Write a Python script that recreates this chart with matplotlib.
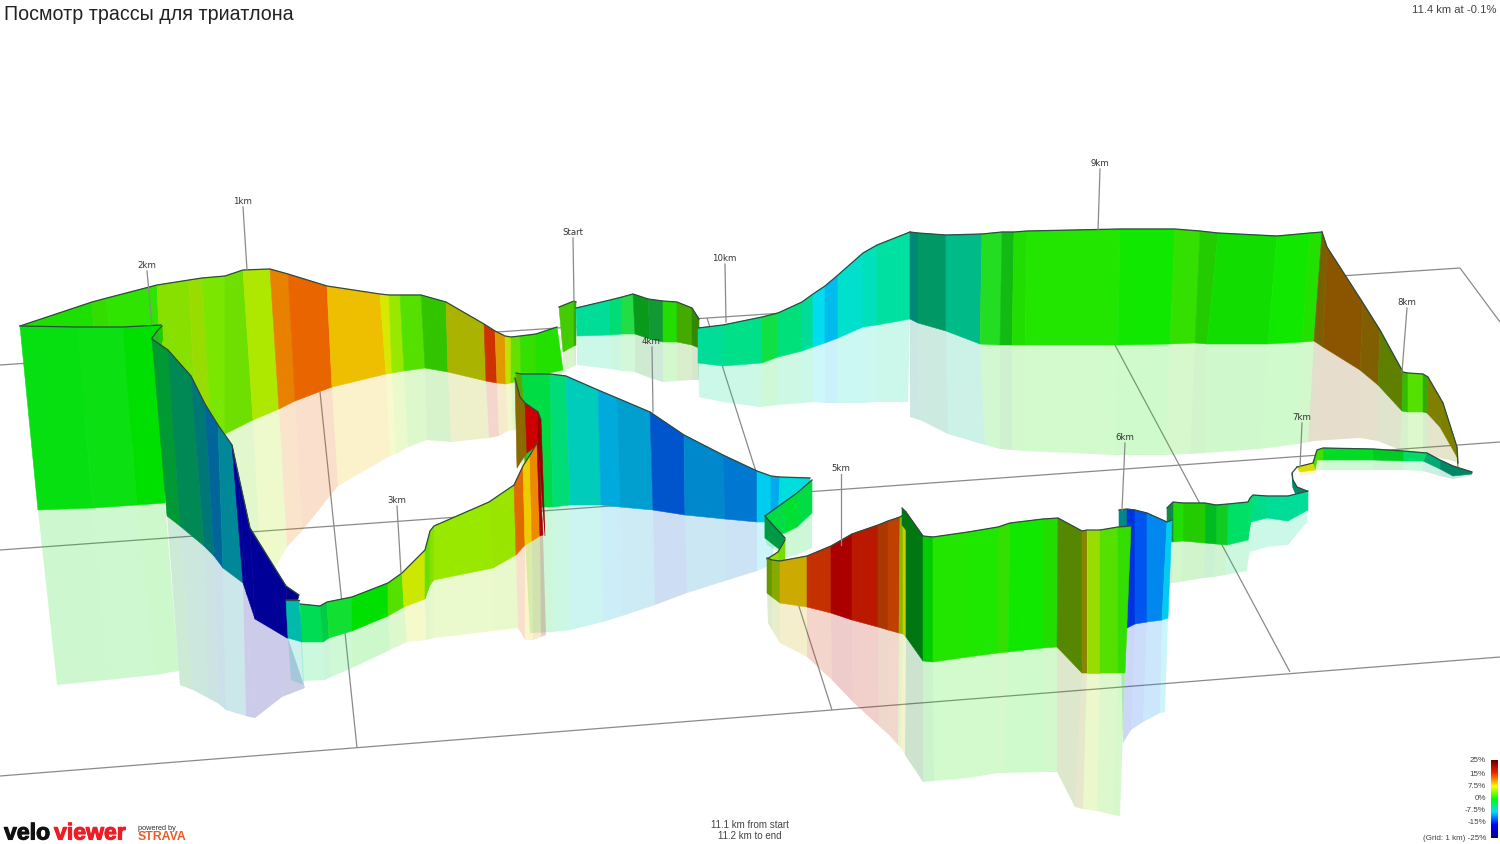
import numpy as np
import matplotlib
matplotlib.use("Agg")
import matplotlib.pyplot as plt
import matplotlib.patheffects as pe
from matplotlib.colors import LinearSegmentedColormap
from matplotlib.patches import Polygon

TITLE = "Посмотр трассы для триатлона"

# Each station is (top x, top y, base x, base y, reflection x, reflection y)
upper_st = [(20,326,38,400,38,400),(92,302,100,420,100,420),(107,298,118,430,118,430),(157,285,165,470,165,470),
 (189,280,197,455,197,455),(202,278,212,446,212,446),(225,276,225,434,240,575),(243,270,253,420,262,590),
 (270,269,279,409,287,547),(288,274,295,401,302,531),(327,286,332,387,338,486),(380,294,386,374,390,456),
 (389,295,392,373,396,454),(400,295,404,371,408,447),(421,295,425,368,427,440),(446,302,448,372,451,442),
 (484,324,486,381,489,438),(495,331,497,383,499,436),(505,336,506,384,508,431),(511,337,511,383,513,430),
 (520,336,521,380,523,429),(536,334,536,376,537,427),(557,327,563,370,563,372)]
upper_col = ["#1ee000","#33dd00","#2ee400","#88e000","#99dd00","#7be600","#6fdf00","#aee800","#e88000","#e96500",
 "#eebf00","#d8e800","#99e800","#55e000","#33c400","#aab400","#cc3300","#e09a00","#c4e000","#66e000","#33e000","#22e000"]

turn_st = [(559,307,563,352,563,372),(574,301,574,346,574,366),(576,302,576,345,576,365)]
turn_col = ["#44cc00","#33aa00"]

start_st = [(576,308,577,336,577,365),(610,300,610,335,610,369),(622,297,622,334,622,371),(633,294,635,334,635,372),
 (648,299,650,339,650,378),(663,301,663,342,663,382),(677,302,677,342,677,381),(692,308,692,345,692,380),(699,319,699,348,699,380)]
start_col = ["#00dd99","#00dd77","#22dd44","#0a9a1a","#119933","#22dd00","#44aa00","#338800"]

climb_st = [(698,328,698,363,699,397),(723,325,723,366,723,402),(762,317,762,363,760,407),(778,313,778,357,778,405),
 (802,302,802,351,802,403),(813,294,813,347,813,402),(825,286,825,343,825,403),(838,275,838,338,838,403),
 (863,253,863,327,863,403),(877,245,877,325,877,402),(910,232,910,319,908,402)]
climb_col = ["#00dd99","#00e088","#11e044","#00e07a","#00dd99","#00ddee","#00bbee","#00e0cc","#00e0bb","#00e0a0"]

top_st = [(910,232,910,319,910,417),(918,233,918,323,920,420),(946,235,946,331,948,434),(982,234,980,344,985,445),
 (1002,232,1000,345,1000,449),(1014,232,1012,345,1012,450),(1027,231,1025,345,1025,451),(1120,229,1118,345,1115,455),
 (1175,229,1170,344,1165,455),(1200,231,1195,343,1190,454),(1218,233,1207,344,1205,453),(1277,236,1268,344,1260,449),
 (1310,233,1302,342,1298,444),(1322,232,1314,341,1308,442)]
top_col = ["#008877","#009966","#00bb88","#22dd22","#11bb11","#22dd00","#22e600","#11e800","#33e000","#22cc00","#11dd00","#11e800","#22e000"]

descent_st = [(1322,232,1314,341,1308,442),(1327,247,1323,347,1313,441),(1363,303,1360,370,1360,438),(1380,330,1378,385,1378,441),
 (1403,372,1402,411,1400,450),(1408,373,1408,412,1408,451),(1423,374,1423,412,1423,454),(1428,377,1427,413,1427,455),
 (1443,403,1440,427,1440,458),(1457,447,1457,457,1457,462),(1458,463,1458,467,1458,468)]
descent_col = ["#7a6000","#8b5500","#7f5f00","#5f7f00","#33bb00","#55e000","#33aa00","#7f8000","#7f8000","#6f8800"]

strip_st = [(1472,472,1472,474,1470,476),(1453,466,1453,476,1453,479),(1440,460,1440,469,1440,476),(1427,453,1423,461,1423,471),
 (1403,451,1403,461,1403,470),(1373,449,1373,460,1373,470),(1323,448,1323,460,1323,470),(1317,450,1317,460,1317,470),(1313,463,1315,470,1315,474)]
strip_col = ["#008866","#008866","#00aa77","#00dd66","#00cc22","#00dd22","#44dd00","#44dd00"]

bend_st = [(1313,463,1315,470,1315,474),(1297,467,1300,472,1300,476)]
bend_col = ["#dddd00"]

curl_st = [(1297,467,1297,468,1297,468),(1292,473,1292,476,1292,476),(1293,480,1293,488,1293,488),(1297,487,1296,495,1296,495),(1307,491,1307,497,1307,498)]
curl_col = ["#ffffff","#008866","#008866","#008866"]

link_st = [(1308,491,1308,510,1307,522),(1288,496,1288,521,1288,545),(1267,496,1267,518,1267,547),(1253,495,1251,522,1250,552),
 (1250,498,1249,532,1248,562),(1248,502,1248,540,1247,571),(1228,504,1227,545,1225,575),(1216,505,1216,544,1214,577),(1205,503,1205,543,1203,578),
 (1183,503,1183,541,1181,582),(1173,502,1173,542,1172,583),(1167,508,1167,540,1166,584)]
link_col = ["#00dd99","#00dd99","#00dd88","#00e066","#00e066","#00e066","#11cc22","#00bb22","#22cc00","#22dd00","#118844"]

blue6_st = [(1119,510,1119,560,1119,560),(1127,509,1127,628,1123,743),(1135,510,1135,624,1131,730),(1147,513,1147,622,1143,722),
 (1167,522,1162,620,1160,713),(1172,520,1168,618,1165,712)]
blue6_col = ["#008888","#0033dd","#0055ee","#0088ee","#00ccee"]

descent4_st = [(516,373,518,400,518,400),(522,374,530,507,530,633),(550,374,553,507,553,632),(566,376,570,505,570,630),
 (598,390,601,505,603,622),(617,398,620,507,622,616),(650,412,653,510,655,605),(684,435,685,515,687,593),
 (723,455,725,519,725,581),(757,471,757,522,757,571),(771,476,771,522,771,565),(780,477,778,520,778,520),(810,478,810,490,810,490)]
descent4_col = ["#55aa00","#00dd44","#00dd77","#00ccbb","#00aadd","#009fcf","#0055cc","#0088cc","#0077d0","#00ccee","#00aaee","#00dddd"]

twist_st = [(515,378,517,468,517,468),(520,397,522,460,522,460),(525,403,527,453,527,453),(538,412,538,444,538,444),(541,420,545,536,545,536)]
twist_col = ["#8a6a00","#8a6a00","#cc0000","#990000"]

valley_st = [(300,604,301,642,303,681),(320,606,323,642,325,680),(327,602,329,638,331,677),(352,597,352,631,352,668),
 (388,583,388,616,390,650),(402,573,404,607,407,642),(425,550,425,599,426,640),(430,531,430,585,430,639),(434,526,434,580,434,638),
 (489,502,493,568,493,631),(514,485,516,555,518,628),(523,466,525,545,525,640),(530,455,532,541,533,640),(537,443,540,536,541,637),(538,442,543,535,546,635)]
valley_col = ["#00dd55","#00cc44","#11e033","#00e000","#55e000","#cce800","#66e000","#88e000","#99e800","#99e500","#e06a00","#eecc00","#ee8800","#aa0000"]

ret_st = [(812,480,812,513,812,548),(797,493,797,527,797,555),(783,503,785,533,787,557),(765,516,765,538,767,545)]
ret_col = ["#00dd44","#00e033","#00dd44"]
dark_st = [(765,516,765,538,765,538),(773,525,775,546,775,546),(785,538,783,552,783,552)]
dark_col = ["#009944","#009944"]
lime_st = [(785,540,785,560,785,560),(778,552,778,562,778,562),(767,559,770,561,770,561)]
lime_col = ["#77dd00","#99dd00"]

front_st = [(767,558,767,593,768,623),(772,560,772,597,772,630),(780,561,780,603,780,643),(807,556,807,607,807,657),
 (831,546,831,613,832,680),(852,534,852,620,853,702),(878,525,878,627,879,726),(888,521,888,630,889,735),(900,517,899,633,898,745),
 (903,515,903,634,901,748),(906,512,906,637,905,755),(923,536,923,661,923,782),(933,537,933,662,934,781),(968,532,968,657,968,778),
 (998,527,998,653,998,773),(1010,523,1008,652,1004,773),(1043,519,1043,648,1043,772),(1058,518,1057,647,1057,772),
 (1082,531,1082,673,1075,807),(1087,530,1087,673,1083,809),(1100,530,1100,673,1097,811),(1118,527,1118,673,1113,815),(1131,526,1125,673,1120,816)]
front_col = ["#669900","#88aa00","#ccaa00","#c43000","#aa0000","#bb1800","#aa3800","#bf4000","#88bb00","#cccc00","#007711","#00cc00",
 "#22e600","#1ee800","#33e000","#11e800","#22dd00","#558800","#888800","#99dd00","#55e000","#33dd00"]
spike_st = [(902,508,902,525,902,525),(906,512,906,530,906,530)]
spike_col = ["#007711"]

panel_st = [(20,326,38,510,57,685),(77,327,93,508,107,680),(123,327,137,505,155,675),(161,325,165,503,179,671)]
panel_col = ["#06e010","#0ae012","#00e000"]

hook_st = [(152,338,155,340,155,340),(158,330,160,345,160,345),(162,326,163,340,163,340)]
hook_col = ["#22bb22","#22cc00"]

pit_st = [(152,339,167,516,180,685),(168,350,180,526,193,690),(191,376,204,546,208,698),(205,404,214,556,219,704),(218,425,223,568,226,710),
 (232,445,243,583,246,716),(238,473,247,595,250,717),(250,528,255,619,255,718),(286,586,287,638,282,697),(299,595,288,638,305,688)]
pit_col = ["#009933","#008855","#007777","#006699","#008899","#000099","#000099","#000099","#000088"]

pad_st = [(286,600,288,638,291,680),(299,600,302,642,304,685)]
pad_col = ["#00bbaa"]

grid_x0 = [0, 0, 0, 1460, 320, 707, 1115]
grid_y0 = [365, 550, 776, 268, 392, 318, 345]
grid_x1 = [1460, 1500, 1500, 1500, 357, 832, 1290]
grid_y1 = [268, 442, 657, 322, 748, 710, 672]

marker_names = ["1km","2km","Start","10km","4km","3km","5km","6km","7km","8km","9km"]
marker_x0 = [243,147,573,725,652,397,841,1125,1302,1407,1100]
marker_y0 = [207,271,238,264,347,506,474,443,423,308,169]
marker_x1 = [247,152,574,726,653,401,841,1122,1300,1402,1098]
marker_y1 = [270,325,301,322,412,573,545,510,467,372,231]

scale_labels = ["25%","15%","7.5%","0%","-7.5%","-15%","(Grid: 1 km) -25%"]
scale_y = [760,775,787,799,811,822,838]
scale_colors = ["#000080","#0000ff","#00ddff","#00ff00","#ffff00","#ff2200","#660000"]

SECTIONS = [(upper_st,upper_col),(turn_st,turn_col),(start_st,start_col),(climb_st,climb_col),(top_st,top_col),
 (descent_st,descent_col),(strip_st,strip_col),(bend_st,bend_col),(curl_st,curl_col),(link_st,link_col),(blue6_st,blue6_col),
 (descent4_st,descent4_col),(twist_st,twist_col),(valley_st,valley_col),(ret_st,ret_col),(dark_st,dark_col),(lime_st,lime_col),
 (front_st,front_col),(spike_st,spike_col),(panel_st,panel_col),(hook_st,hook_col),(pit_st,pit_col),(pad_st,pad_col)]

fig = plt.figure(figsize=(15, 8.44), dpi=100, facecolor="white")
ax = fig.add_axes([0, 0, 1, 1])
ax.set_xlim(0, 1500)
ax.set_ylim(844, 0)
ax.axis("off")

for x0, y0, x1, y1 in zip(grid_x0, grid_y0, grid_x1, grid_y1):
    ax.plot([x0, x1], [y0, y1], color="#8a8a8a", lw=0.9, zorder=1, solid_capstyle="butt")

for st, cols in SECTIONS:
    for a, b, c in zip(st[:-1], st[1:], cols):
        ax.add_patch(Polygon([(a[2], a[3]), (b[2], b[3]), (b[4], b[5]), (a[4], a[5])],
                             closed=True, facecolor=c, edgecolor="none", alpha=0.2, zorder=2))

z = 3
for st, cols in SECTIONS:
    for a, b, c in zip(st[:-1], st[1:], cols):
        ax.add_patch(Polygon([(a[0], a[1]), (b[0], b[1]), (b[2], b[3]), (a[2], a[3])],
                             closed=True, facecolor=c, edgecolor=c, lw=0.4, zorder=z))
    ax.plot([s[0] for s in st], [s[1] for s in st], color="#2f4a40", lw=0.9, zorder=z + 0.5,
            solid_joinstyle="round")
    z += 1

for name, x0, y0, x1, y1 in zip(marker_names, marker_x0, marker_y0, marker_x1, marker_y1):
    ax.plot([x0, x1], [y0, y1], color="#8a8a8a", lw=0.9, zorder=z)
    ax.text(x0 - 0.5, y0 - 1, name, fontsize=6.2, color="#333333", ha="center", va="bottom", zorder=z + 1)

SANS = "Liberation Sans"
ax.text(4, 15, TITLE, fontsize=14.1, family=SANS, color="#222222", ha="left", va="center")
ax.text(1496, 10, "11.4 km at -0.1%", fontsize=8.1, family=SANS, color="#444444", ha="right", va="center")
ax.text(750, 825, "11.1 km from start", fontsize=7.0, family=SANS, color="#444444", ha="center", va="center")
ax.text(750, 836, "11.2 km to end", fontsize=7.0, family=SANS, color="#444444", ha="center", va="center")

cmap = LinearSegmentedColormap.from_list("gradient", scale_colors)
ax.imshow(np.linspace(1, 0, 128)[:, None], cmap=cmap, extent=(1491, 1498, 838, 760), aspect="auto", zorder=z)
ax.set_xlim(0, 1500)
ax.set_ylim(844, 0)
for label, y in zip(scale_labels, scale_y):
    ax.text(1486, y, label, fontsize=5.8, family=SANS, color="#444444", ha="right", va="center")

ax.text(4, 833, "velo", fontsize=16.6, family=SANS, weight="bold", color="#111111", ha="left", va="center",
        path_effects=[pe.withStroke(linewidth=0.8, foreground="#111111")])
ax.text(54, 833, "viewer", fontsize=16.6, family=SANS, weight="bold", color="#ee1c25", ha="left", va="center",
        path_effects=[pe.withStroke(linewidth=0.8, foreground="#ee1c25")])
ax.text(138, 828, "powered by", fontsize=5.3, family=SANS, color="#333333", ha="left", va="center")
ax.text(138, 837.5, "STRAVA", fontsize=8.8, family=SANS, weight="bold", color="#f05a22", ha="left", va="center")

fig.savefig("out.png", dpi=100)
